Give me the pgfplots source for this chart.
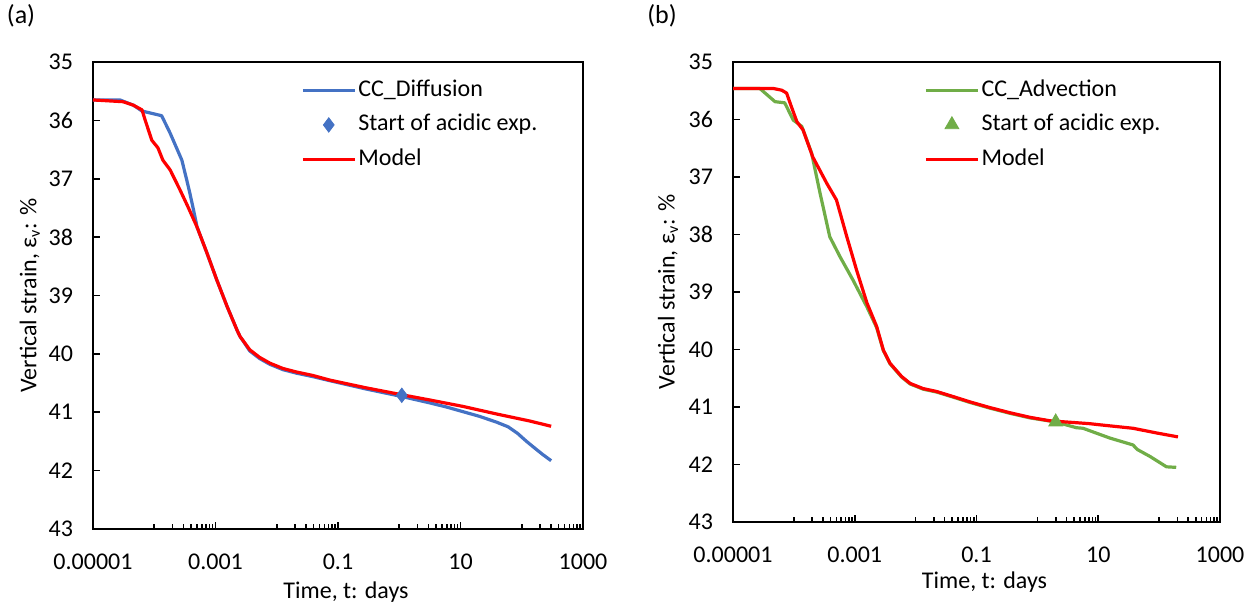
\documentclass[border=0pt]{standalone}
\usepackage{fontspec}
\setmainfont{Carlito}
\usepackage{pgfplots}
\pgfplotsset{compat=1.18}
\definecolor{cblue}{HTML}{4472C4}
\definecolor{cgreen}{HTML}{70AD47}
\definecolor{cred}{HTML}{FF0000}
\pgfplotsset{
  legend image code/.code={\draw[mark repeat=2,mark phase=2,#1] plot coordinates {(0pt,0pt) (13pt,0pt) (26pt,0pt)};},
  dline/.style={line width=1.6pt, line join=round, no markers},
}
\pgfplotsset{
  myax/.style={
    scale only axis,
    xmin=1e-5, xmax=1000,
    ymin=35, ymax=43,
    y dir=reverse,
    ytick={35,36,37,38,39,40,41,42,43},
    xtick={1e-5,1e-3,1e-1,10,1000},
    xticklabels={0.00001,0.001,0.1,10,1000},
    minor xtick={1e-4,2e-4,3e-4,4e-4,5e-4,6e-4,7e-4,8e-4,9e-4,
                 1e-2,2e-2,3e-2,4e-2,5e-2,6e-2,7e-2,8e-2,9e-2,
                 1,2,3,4,5,6,7,8,9,100,200,300,400,500,600,700,800,900},
    tick pos=left,
    tick align=inside,
    major tick length=3.5pt,
    minor tick length=2.5pt,
    every tick/.style={black, line width=0.8pt},
    axis line style={black, line width=1pt},
    /pgf/number format/assume math mode=true,
    tick label style={font=\fontsize{12}{14}\selectfont},
    xticklabel style={yshift=-9pt},
    yticklabel style={xshift=-6.5pt},
    label style={font=\fontsize{12}{14}\selectfont},
    xlabel={Time, t: days},
    ylabel={Vertical strain, ε\textsubscript{v}: \%},
    legend cell align=left,
    legend style={draw=none, fill=none, inner sep=0pt, row sep=4.3pt,
      font=\fontsize{12}{14}\selectfont,
      nodes={text height=8.5pt, text depth=2.5pt, inner sep=1pt}},
  },
}
\begin{document}
\begin{tikzpicture}
\begin{axis}[xmode=log, myax,
  at={(46.5pt,37pt)}, anchor=south west,
  width=245pt, height=233.5pt,
  ylabel style={at={(axis description cs:-0.129,0.5)}, anchor=center},
  xlabel style={at={(axis description cs:0.5,0)}, anchor=center, yshift=-31.5pt, xshift=4pt},
  legend style={at={(axis description cs:0.424,0.968)}, anchor=north west},
]
\addplot[dline, cblue] coordinates {
(1e-5,35.65) (2.75e-5,35.65) (4.57e-5,35.74) (6.31e-5,35.84) (1.32e-4,35.92)
(1.82e-4,36.22) (2.82e-4,36.68) (3.39e-4,37.02) (3.80e-4,37.24) (4.37e-4,37.53)
(5.01e-4,37.83) (7.24e-4,38.27) (1.047e-3,38.73) (1.549e-3,39.19) (2.24e-3,39.59)
(2.51e-3,39.70) (3.63e-3,39.95) (5.25e-3,40.08) (7.76e-3,40.18) (1.26e-2,40.27)
(2.09e-2,40.33) (3.89e-2,40.39) (7.41e-2,40.46) (0.282,40.60) (1.1,40.73)
(3.16,40.84) (5.89,40.91) (10.96,40.99) (20.4,41.07) (38.9,41.17) (60,41.25) (85,41.36)
(120,41.50) (170,41.63) (224,41.73) (302,41.83)
};
\addlegendentry{CC\_Diffusion}
\addplot[only marks, mark=diamond*, mark size=3.6pt, color=cblue] coordinates {(1.1,40.71)};
\addlegendentry{Start of acidic exp.}
\addplot[dline, cred] coordinates {
(1e-5,35.65) (3.09e-5,35.68) (4.57e-5,35.74) (6.31e-5,35.82) (7.08e-5,35.99)
(9.12e-5,36.34) (1.148e-4,36.47) (1.38e-4,36.68) (1.82e-4,36.85) (2.63e-4,37.19)
(3.55e-4,37.48) (5.01e-4,37.83) (7.24e-4,38.27) (1.047e-3,38.73) (1.549e-3,39.19)
(2.24e-3,39.59) (2.51e-3,39.70) (3.63e-3,39.93) (5.25e-3,40.06) (7.76e-3,40.16)
(1.26e-2,40.25) (2.09e-2,40.31) (3.89e-2,40.37) (7.41e-2,40.45) (0.282,40.58)
(1.1,40.70) (3.16,40.79) (10.96,40.90) (38.9,41.03) (135,41.15) (302,41.24)
};
\addlegendentry{Model}
\end{axis}

\begin{axis}[xmode=log, myax,
  at={(366.5pt,40.5pt)}, anchor=south west,
  width=243.5pt, height=230pt,
  ylabel style={at={(axis description cs:-0.1335,0.5)}, anchor=center},
  xlabel style={at={(axis description cs:0.5,0)}, anchor=center, yshift=-30pt, xshift=4pt},
  legend style={at={(axis description cs:0.392,0.968)}, anchor=north west},
]
\addplot[dline, cgreen] coordinates {
(1e-5,35.46) (2.754e-5,35.46) (4.90e-5,35.69) (7.08e-5,35.71) (9.77e-5,36.01)
(1.349e-4,36.12) (1.95e-4,36.58) (2.69e-4,37.28) (3.89e-4,38.04) (5.75e-4,38.39)
(9.33e-4,38.79) (1.585e-3,39.26) (2.29e-3,39.62) (2.95e-3,40.02) (3.80e-3,40.25)
(5.89e-3,40.48) (8.13e-3,40.60) (1.33e-2,40.69) (2.21e-2,40.74) (4.17e-2,40.83)
(7.76e-2,40.92) (0.166,41.02) (0.355,41.11) (0.759,41.19) (2.0,41.26) (4.37,41.36)
(5.62,41.37) (15.5,41.54) (37.2,41.66) (44,41.74) (70.8,41.86) (132,42.04) (191,42.05)
};
\addlegendentry{CC\_Advection}
\addplot[only marks, mark=triangle*, mark size=4pt, color=cgreen] coordinates {(2.0,41.26)};
\addlegendentry{Start of acidic exp.}
\addplot[dline, cred] coordinates {
(1e-5,35.46) (4.57e-5,35.46) (6.31e-5,35.49) (7.59e-5,35.54) (9.12e-5,35.78)
(1.122e-4,36.04) (1.413e-4,36.18) (2.04e-4,36.65) (3.47e-4,37.11) (5.01e-4,37.40)
(7.41e-4,38.04) (1.072e-3,38.62) (1.585e-3,39.19) (2.29e-3,39.60) (2.95e-3,40.01)
(3.80e-3,40.24) (5.89e-3,40.47) (8.13e-3,40.59) (1.33e-2,40.68) (2.21e-2,40.73)
(4.17e-2,40.82) (7.76e-2,40.91) (0.166,41.01) (0.355,41.10) (0.759,41.18) (1.6,41.24)
(7.24,41.29) (10.7,41.31) (37.2,41.37) (89.1,41.45) (204,41.52)
};
\addlegendentry{Model}
\end{axis}

\node[font=\fontsize{13}{15}\selectfont] at (10.5pt,293.5pt) {(a)};
\node[font=\fontsize{13}{15}\selectfont] at (331pt,293.5pt) {(b)};
\pgfresetboundingbox
\useasboundingbox (0,0) rectangle (628.5pt,301.5pt);
\end{tikzpicture}
\end{document}
